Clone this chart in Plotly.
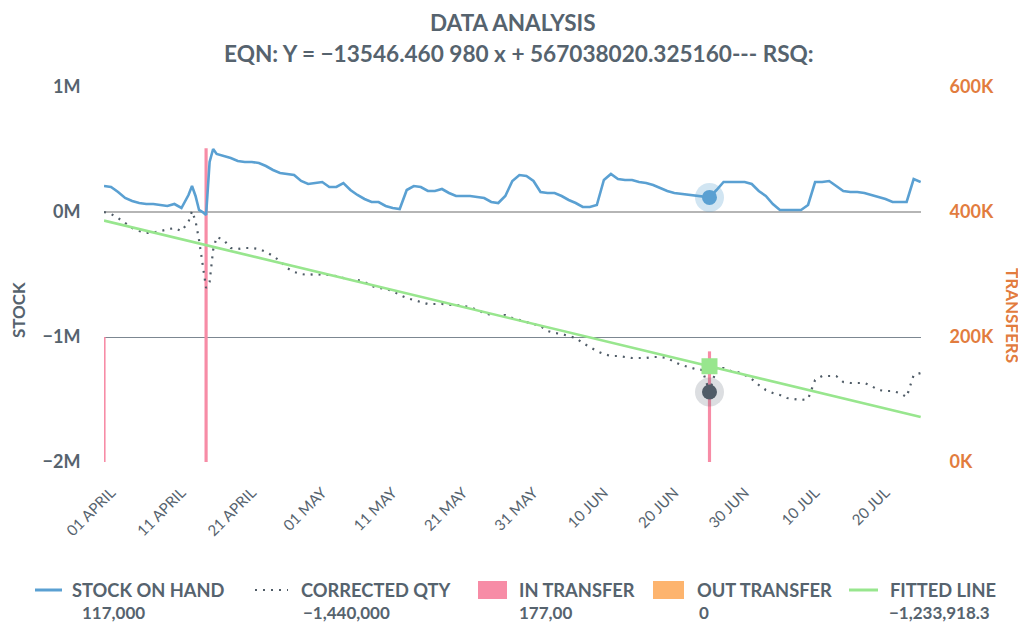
import pandas as pd
import plotly.graph_objects as go

# ---------------- data ----------------
START = "2021-03-31"
DAYS = sorted(list(range(117)) + [12.5, 13.5, 14.5, 15.5])

STOCK_ON_HAND_M = [
    0.208, 0.200, 0.160, 0.112, 0.088, 0.072, 0.064, 0.064, 0.056, 0.048,   # d0-9
    0.064, 0.032, 0.136, 0.208, 0.128, 0.016, 0.000, -0.024, 0.400, 0.504,  # d10,11,12,12.5,13,13.5,14,14.5,15,15.5
    0.464, 0.448, 0.432, 0.408, 0.400, 0.400, 0.392, 0.368, 0.336, 0.312,   # d16-25
    0.304, 0.296, 0.248, 0.224, 0.232, 0.240, 0.200, 0.200, 0.232, 0.176,   # d26-35
    0.136, 0.104, 0.080, 0.080, 0.048, 0.032, 0.024, 0.176, 0.208, 0.200,   # d36-45
    0.168, 0.168, 0.184, 0.152, 0.128, 0.128, 0.128, 0.120, 0.112, 0.080,   # d46-55
    0.072, 0.128, 0.248, 0.296, 0.288, 0.248, 0.160, 0.152, 0.152, 0.128,   # d56-65
    0.096, 0.072, 0.040, 0.040, 0.056, 0.256, 0.304, 0.264, 0.256, 0.256,   # d66-75
    0.240, 0.232, 0.216, 0.192, 0.168, 0.152, 0.144, 0.136, 0.128, 0.120,   # d76-85
    0.117, 0.176, 0.240, 0.240, 0.240, 0.240, 0.224, 0.168, 0.128, 0.064,   # d86-95
    0.016, 0.016, 0.016, 0.016, 0.056, 0.240, 0.240, 0.248, 0.208, 0.168,   # d96-105
    0.160, 0.160, 0.152, 0.136, 0.120, 0.104, 0.080, 0.080, 0.080, 0.264,   # d106-115
    0.240,                                                                  # d116
]

CORRECTED_QTY_M = [
    0.000, -0.016, -0.048, -0.088, -0.128, -0.152, -0.168, -0.164, -0.152, -0.136,   # d0-9
    -0.128, -0.152, -0.080, 0.008, -0.072, -0.224, -0.432, -0.608, -0.560, -0.304,  # d10..15.5
    -0.200, -0.224, -0.288, -0.296, -0.288, -0.288, -0.296, -0.320, -0.352, -0.392,  # d16-25
    -0.448, -0.480, -0.496, -0.504, -0.496, -0.504, -0.504, -0.512, -0.528, -0.544,  # d26-35
    -0.544, -0.560, -0.592, -0.608, -0.616, -0.632, -0.664, -0.688, -0.704, -0.720,  # d36-45
    -0.736, -0.736, -0.736, -0.744, -0.744, -0.752, -0.760, -0.784, -0.808, -0.824,  # d46-55
    -0.824, -0.824, -0.848, -0.864, -0.880, -0.896, -0.912, -0.952, -0.968, -0.976,  # d56-65
    -0.992, -1.008, -1.048, -1.080, -1.112, -1.136, -1.152, -1.152, -1.160, -1.168,  # d66-75
    -1.168, -1.168, -1.160, -1.160, -1.168, -1.200, -1.224, -1.240, -1.256, -1.264,  # d76-85
    -1.440, -1.248, -1.248, -1.272, -1.280, -1.304, -1.336, -1.384, -1.424, -1.448,  # d86-95
    -1.464, -1.488, -1.496, -1.504, -1.496, -1.344, -1.312, -1.312, -1.312, -1.360,  # d96-105
    -1.368, -1.368, -1.368, -1.392, -1.424, -1.432, -1.432, -1.448, -1.480, -1.304,  # d106-115
    -1.288,                                                                          # d116
]

FIT_DATES = ["2021-03-31", "2021-06-25", "2021-07-25"]
FIT_VALUES = [-68923, -1233918.3, -1640312]

IN_DATES = ["2021-03-31", "2021-04-14 12:00", "2021-06-25"]
IN_VALUES = [200000, 502000, 177000]
OUT_DATES = ["2021-03-31", "2021-04-14 12:00", "2021-06-25"]
OUT_VALUES = [0, 0, 0]

HOVER_DATE = "2021-06-25"
HOVER_STOCK = 117000
HOVER_CORRECTED = -1440000
HOVER_FIT = -1233918.3

X_TICKS = ["2021-04-01", "2021-04-11", "2021-04-21", "2021-05-01", "2021-05-11", "2021-05-21",
           "2021-05-31", "2021-06-10", "2021-06-20", "2021-06-30", "2021-07-10", "2021-07-20"]
X_TICK_TEXT = ["01 APRIL", "11 APRIL", "21 APRIL", "01 MAY", "11 MAY", "21 MAY",
               "31 MAY", "10 JUN", "20 JUN", "30 JUN", "10 JUL", "20 JUL"]
LEFT_TICKS = [-2e6, -1e6, 0, 1e6]
LEFT_TICK_TEXT = ["\u22122M", "\u22121M", "0M", "1M"]
RIGHT_TICKS = [0, 200000, 400000, 600000]
RIGHT_TICK_TEXT = ["0K", "200K", "400K", "600K"]

LEGEND_NAMES = ["STOCK ON HAND", "CORRECTED QTY", "IN TRANSFER", "OUT TRANSFER", "FITTED LINE"]
LEGEND_VALUES = ["117,000", "\u22121,440,000", "177,00", "0", "\u22121,233,918.3"]

assert len(DAYS) == len(STOCK_ON_HAND_M) == len(CORRECTED_QTY_M)

dates = pd.Timestamp(START) + pd.to_timedelta(DAYS, unit="D")
stock = [v * 1e6 for v in STOCK_ON_HAND_M]
corrected = [v * 1e6 for v in CORRECTED_QTY_M]

# ---------------- style ----------------
FONT = "Lato"
TXT = "#56636e"
ORANGE = "#e27c3e"
BLUE = "#5aa0d2"
DARK = "#505c67"
PINK = "#f78ca6"
LORANGE = "#fdb46e"
GREEN = "#98e68e"

# page body has an 8px margin: figure is 1018x618 placed at (8, 8)
OFF = 8
W, H = 1026 - OFF, 626 - OFF
L, R, T, B = 104, 921, 87, 462   # plot area in screen pixels

fig = go.Figure()

fig.add_trace(go.Bar(x=IN_DATES, y=IN_VALUES, yaxis="y", marker_color=PINK,
                     marker_line_width=0, width=0.45 * 86400000, name="IN TRANSFER"))
fig.add_trace(go.Bar(x=OUT_DATES, y=OUT_VALUES, yaxis="y", marker_color=LORANGE,
                     marker_line_width=0, width=0.45 * 86400000, name="OUT TRANSFER"))

fig.add_trace(go.Scatter(x=dates, y=stock, yaxis="y2", mode="lines",
                         line=dict(color=BLUE, width=2.6), name="STOCK ON HAND"))
fig.add_trace(go.Scatter(x=dates, y=corrected, yaxis="y2", mode="lines",
                         line=dict(color=DARK, width=2.2, dash="2px,6px"), name="CORRECTED QTY"))
fig.add_trace(go.Scatter(x=FIT_DATES, y=FIT_VALUES, yaxis="y2", mode="lines",
                         line=dict(color=GREEN, width=2.6), name="FITTED LINE"))

# hover highlight markers
fig.add_trace(go.Scatter(x=[HOVER_DATE, HOVER_DATE], y=[HOVER_STOCK, HOVER_CORRECTED], yaxis="y2",
                         mode="markers",
                         marker=dict(size=29, color=["rgba(90,160,210,0.28)", "rgba(80,92,103,0.2)"]),
                         hoverinfo="skip"))
fig.add_trace(go.Scatter(x=[HOVER_DATE, HOVER_DATE], y=[HOVER_STOCK, HOVER_CORRECTED], yaxis="y2",
                         mode="markers", marker=dict(size=15, color=[BLUE, DARK]), hoverinfo="skip"))
fig.add_trace(go.Scatter(x=[HOVER_DATE], y=[HOVER_FIT], yaxis="y2", mode="markers",
                         marker=dict(size=16, symbol="square", color=GREEN), hoverinfo="skip"))


def px(x):
    return (x - L) / (R - L)


def py(y):
    return (B - y) / (B - T)


ann = [
    dict(text="DATA ANALYSIS", xref="paper", yref="paper", x=px(513), y=py(22),
         xanchor="center", yanchor="middle", showarrow=False,
         font=dict(size=22.5, color=TXT, family=FONT, weight=700)),
    dict(text="EQN: Y = \u221213546.460 980 x + 567038020.325160--- RSQ:", xref="paper", yref="paper",
         x=px(222), y=py(53), xanchor="left", yanchor="middle", showarrow=False,
         font=dict(size=22.6, color=TXT, family=FONT, weight=700)),
    dict(text="STOCK", xref="paper", yref="paper", x=px(18), y=py(310), textangle=-90,
         xanchor="center", yanchor="middle", showarrow=False,
         font=dict(size=17, color=TXT, family=FONT, weight=700)),
    dict(text="TRANSFERS", xref="paper", yref="paper", x=px(1013), y=py(315), textangle=90,
         xanchor="center", yanchor="middle", showarrow=False,
         font=dict(size=17, color=ORANGE, family=FONT, weight=700)),
]

name_x = [70, 299, 517, 695, 888]
val_x = [80, 301, 517, 697, 887]
for nm, vx, n, v in zip(name_x, val_x, LEGEND_NAMES, LEGEND_VALUES):
    ann.append(dict(text=n, xref="paper", yref="paper", x=px(nm), y=py(590), xanchor="left",
                    yanchor="middle", showarrow=False,
                    font=dict(size=18.3, color=TXT, family=FONT, weight=700)))
    ann.append(dict(text=v, xref="paper", yref="paper", x=px(vx), y=py(612), xanchor="left",
                    yanchor="middle", showarrow=False,
                    font=dict(size=17, color=TXT, family=FONT, weight=700)))

shapes = [
    dict(type="line", xref="paper", yref="paper", x0=px(35), x1=px(62), y0=py(590), y1=py(590),
         line=dict(color=BLUE, width=3)),
    dict(type="line", xref="paper", yref="paper", x0=px(255), x1=px(288), y0=py(590), y1=py(590),
         line=dict(color=DARK, width=2.2, dash="2px,6px")),
    dict(type="rect", xref="paper", yref="paper", x0=px(478), x1=px(507), y0=py(599), y1=py(581),
         line=dict(width=0), fillcolor=PINK),
    dict(type="rect", xref="paper", yref="paper", x0=px(653), x1=px(684), y0=py(599), y1=py(581),
         line=dict(width=0), fillcolor=LORANGE),
    dict(type="line", xref="paper", yref="paper", x0=px(849), x1=px(878), y0=py(590), y1=py(590),
         line=dict(color=GREEN, width=3)),
]

fig.update_layout(
    width=W, height=H,
    margin=dict(l=L - OFF, r=W - (R - OFF), t=T - OFF, b=H - (B - OFF)),
    paper_bgcolor="white", plot_bgcolor="white",
    showlegend=False, barmode="overlay",
    font=dict(family=FONT, color=TXT),
    xaxis=dict(type="date", range=["2021-03-31", "2021-07-25 01:00"],
               tickvals=X_TICKS, ticktext=X_TICK_TEXT, tickangle=-45,
               tickfont=dict(size=15, color=TXT, family=FONT),
               showgrid=False, zeroline=False, showline=False,
               ticks="outside", ticklen=15, tickcolor="rgba(0,0,0,0)"),
    yaxis=dict(side="right", range=[0, 600000], tickvals=RIGHT_TICKS, ticktext=RIGHT_TICK_TEXT,
               showgrid=False, zeroline=False, showline=False,
               tickfont=dict(size=18, color=ORANGE, family=FONT, weight=700),
               ticks="outside", ticklen=24, tickcolor="rgba(0,0,0,0)"),
    yaxis2=dict(side="left", overlaying="y", range=[-2e6, 1e6], tickvals=LEFT_TICKS,
                ticktext=LEFT_TICK_TEXT, showgrid=True, gridcolor="#7c8791", gridwidth=1,
                zeroline=True, zerolinecolor="#b5b5b5", zerolinewidth=1.5, showline=False,
                tickfont=dict(size=18, color=TXT, family=FONT, weight=700),
                ticks="outside", ticklen=19, tickcolor="rgba(0,0,0,0)"),
    annotations=ann,
    shapes=shapes,
)

fig.write_html("out.html")
